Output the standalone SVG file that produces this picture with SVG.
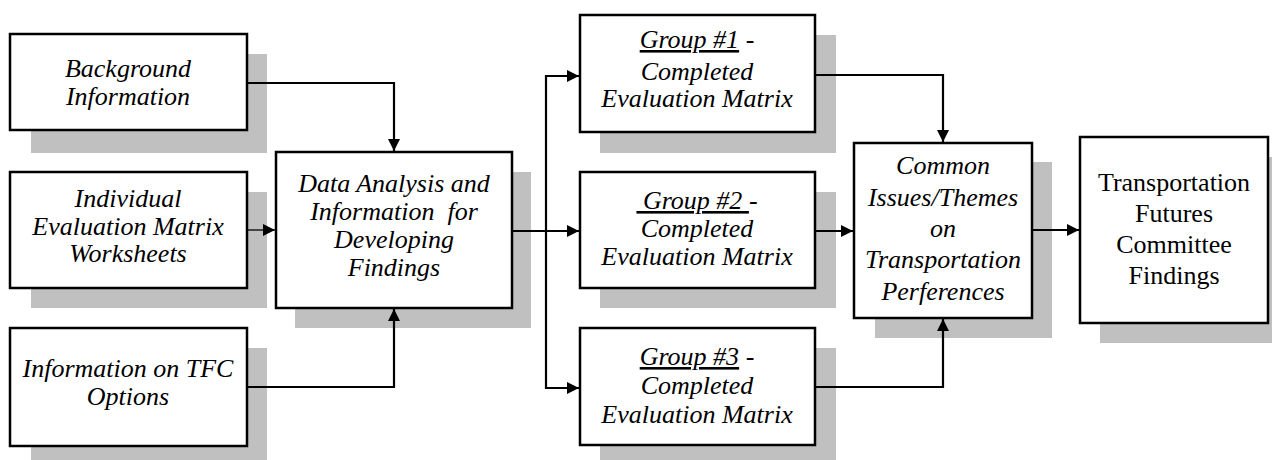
<svg xmlns="http://www.w3.org/2000/svg" width="1272" height="460" viewBox="0 0 1272 460">
<style>
.sh{fill:#c0c0c0}
.bx{fill:#fff;stroke:#000;stroke-width:2.5}
.c{fill:none;stroke:#000;stroke-width:2.2}
</style>
<defs>
<marker id="ah" viewBox="0 0 10 10" refX="10" refY="5" markerWidth="14" markerHeight="12" markerUnits="userSpaceOnUse" orient="auto"><path d="M0,0 L10,5 L0,10 Z" fill="#000"/></marker>
</defs>
<rect width="1272" height="460" fill="#fff"/>
<g font-family="Times New Roman" font-size="26" font-style="italic" text-anchor="middle" fill="#000">
<g id="n1">
<rect class="sh" x="31" y="54" width="236" height="99"/>
<rect class="bx" x="10" y="34" width="237" height="96"/>
<text x="128" y="77">Background</text>
<text x="128" y="105">Information</text>
</g>
<g id="n2">
<rect class="sh" x="31" y="192" width="236" height="116"/>
<rect class="bx" x="10" y="172" width="237" height="116"/>
<text x="128" y="207">Individual</text>
<text x="128" y="235">Evaluation Matrix</text>
<text x="128" y="262">Worksheets</text>
</g>
<g id="n3">
<rect class="sh" x="31" y="348" width="236" height="112"/>
<rect class="bx" x="10" y="328" width="237" height="118"/>
<text x="128" y="377">Information on TFC</text>
<text x="128" y="405">Options</text>
</g>
<g id="n4">
<rect class="sh" x="295" y="172" width="236" height="156"/>
<rect class="bx" x="276" y="152" width="236" height="156"/>
<text x="394" y="192">Data Analysis and</text>
<text x="394" y="220" xml:space="preserve">Information  for</text>
<text x="394" y="248">Developing</text>
<text x="394" y="276">Findings</text>
</g>
<g id="n5">
<rect class="sh" x="600" y="35" width="236" height="118"/>
<rect class="bx" x="580" y="15" width="235" height="117"/>
<text x="697" y="48" xml:space="preserve"><tspan text-decoration="underline">Group #1</tspan> -</text>
<text x="697" y="80">Completed</text>
<text x="697" y="107">Evaluation Matrix</text>
</g>
<g id="n6">
<rect class="sh" x="600" y="192" width="236" height="116"/>
<rect class="bx" x="580" y="172" width="235" height="116"/>
<text x="697" y="209" xml:space="preserve"><tspan text-decoration="underline"> Group #2 </tspan>-</text>
<text x="697" y="237">Completed</text>
<text x="697" y="265">Evaluation Matrix</text>
</g>
<g id="n7">
<rect class="sh" x="600" y="348" width="236" height="112"/>
<rect class="bx" x="580" y="328" width="235" height="117"/>
<text x="697" y="365" xml:space="preserve"><tspan text-decoration="underline">Group #3</tspan> -</text>
<text x="697" y="394">Completed</text>
<text x="697" y="423">Evaluation Matrix</text>
</g>
<g id="n8">
<rect class="sh" x="875" y="162" width="177" height="176"/>
<rect class="bx" x="854" y="143" width="178" height="175"/>
<text x="943" y="174">Common</text>
<text x="943" y="206">Issues/Themes</text>
<text x="943" y="237">on</text>
<text x="943" y="268">Transportation</text>
<text x="943" y="300">Perferences</text>
</g>
<g id="n9" font-style="normal">
<rect class="sh" x="1100" y="157" width="172" height="186"/>
<rect class="bx" x="1080" y="137" width="188" height="186"/>
<text x="1174" y="191">Transportation</text>
<text x="1174" y="222">Futures</text>
<text x="1174" y="253">Committee</text>
<text x="1174" y="284">Findings</text>
</g>
</g>
<g id="connectors">
<path class="c" d="M247,83 H394 V151" marker-end="url(#ah)"/>
<path class="c" d="M247,230 H275" stroke-width="1.3" style="stroke-width:1.3" marker-end="url(#ah)"/>
<path class="c" d="M247,387 H394 V309" marker-end="url(#ah)"/>
<path class="c" d="M512,231 H579" marker-end="url(#ah)"/>
<path class="c" d="M579,76 H546 V388 H579" marker-end="url(#ah)"/>
<path class="c" d="M546,76 H579" marker-end="url(#ah)"/>
<path class="c" d="M815,75 H943 V142" marker-end="url(#ah)"/>
<path class="c" d="M815,231 H853" marker-end="url(#ah)"/>
<path class="c" d="M815,387 H943 V319" marker-end="url(#ah)"/>
<path class="c" d="M1032,230 H1079" marker-end="url(#ah)"/>
</g>
</svg>
